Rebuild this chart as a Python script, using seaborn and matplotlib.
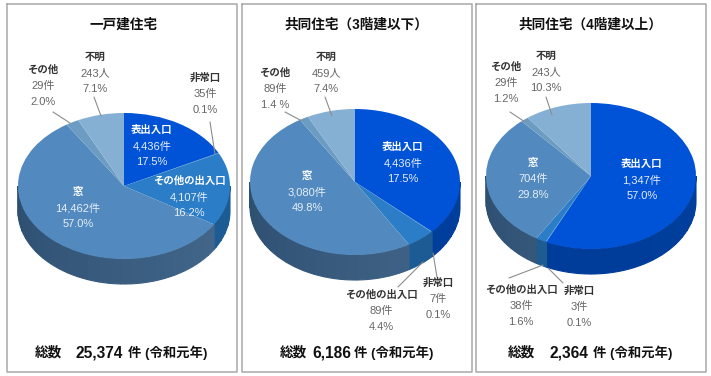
import numpy as np
import seaborn as sns
import matplotlib
matplotlib.use('Agg')
import matplotlib.pyplot as plt

# Data
titles = ['一戸建住宅', '共同住宅（3階建以下）', '共同住宅（4階建以上）']
total_numbers = ['25,374', '6,186', '2,364']
kinds = ['表出入口', '非常口', 'その他の出入口', '窓', 'その他', '不明']

# wedge sizes as drawn (the middle pie is drawn at about 36.9% although its label says 17.5%)
shares_1 = [17.5, 0.1, 16.2, 57.0, 2.0, 7.1]
shares_2 = [36.9, 0.1, 4.4, 49.8, 1.4, 7.4]
shares_3 = [57.0, 0.1, 1.6, 29.8, 1.2, 10.3]

counts_1 = ['4,436件', '35件', '4,107件', '14,462件', '29件', '243人']
counts_2 = ['4,436件', '7件', '89件', '3,080件', '89件', '459人']
counts_3 = ['1,347件', '3件', '38件', '704件', '29件', '243人']

percents_1 = ['17.5%', '0.1%', '16.2%', '57.0%', '2.0%', '7.1%']
percents_2 = ['17.5%', '0.1%', '4.4%', '49.8%', '1.4 %', '7.4%']
percents_3 = ['57.0%', '0.1%', '1.6%', '29.8%', '1.2%', '10.3%']

top_colors = ['#0052d6', '#2a7dc6', '#2a7dc6', '#528abf', '#6d9cc3', '#85b0d3']
side_left = ['#003a96', '#1d5a90', '#1d5a90', '#2d4e6f', '#2d4e6f', '#2d4e6f']
side_right = ['#003f9e', '#1c5c94', '#1c5c94', '#466b90', '#466b90', '#466b90']

# Layout, all in pixels of the 711x376 picture
W, H = 711, 376
RY, DEPTH = 73, 25
panels = [
    dict(box=(7, 4, 237, 372), cx=124, cy=186, rx=106, title_x=124, total_xs=(35, 76, 207),
         shares=shares_1, counts=counts_1, percents=percents_1,
         label_xy=[(152, 130), (205, 78), (189, 181), (78, 192), (43, 70), (95, 57)],
         leaders=[((94, 97), (101, 116)), ((53, 112), (70, 123)), ((210, 122), (215, 154))]),
    dict(box=(242, 4, 472, 372), cx=355, cy=182, rx=105, title_x=356, total_xs=(280, 312, 433),
         shares=shares_2, counts=counts_2, percents=percents_2,
         label_xy=[(403, 147), (438, 283), (381, 295), (307, 176), (275, 73), (326, 57)],
         leaders=[((325, 97), (332, 116)), ((285, 112), (302, 121)),
                  ((433, 253), (437, 277)), ((423, 262), (398, 287))]),
    dict(box=(476, 4, 706, 372), cx=591, cy=176, rx=105, title_x=590, total_xs=(508, 550, 672),
         shares=shares_3, counts=counts_3, percents=percents_3,
         label_xy=[(642, 164), (579, 291), (521, 290), (533, 163), (506, 67), (546, 56)],
         leaders=[((546, 97), (552, 115)), ((510, 112), (525, 122)),
                  ((543, 265), (509, 278)), ((548, 268), (563, 283))]),
]
inside = {'表出入口', '窓'}

sns.set_theme(style='white')
plt.rcParams['font.family'] = ['Liberation Sans', 'Noto Sans CJK JP', 'DejaVu Sans']

fig = plt.figure(figsize=(W / 100, H / 100), dpi=100, facecolor='white')

# Pixel overlay for frames, leaders and text
over = fig.add_axes([0, 0, 1, 1], zorder=3)
over.set_xlim(0, W)
over.set_ylim(H, 0)
over.axis('off')


def draw_side(ax, shares, depth):
    # Rim of the pie: strips on the front half, coloured by position
    edges = np.cumsum([0] + shares) / sum(shares) * 360
    for i in range(len(shares)):
        ramp = sns.blend_palette([side_right[i], side_left[i]], 181)
        start, stop = max(edges[i], 90), min(edges[i + 1], 270)
        if stop <= start:
            continue
        steps = np.append(np.arange(start, stop, 6.0), stop)
        for a, b in zip(steps[:-1], steps[1:]):
            t = np.radians(np.linspace(a, b, 8))
            x, y = np.sin(t), np.cos(t)
            ax.fill(np.r_[x, x[::-1]], np.r_[y, y[::-1] - depth],
                    color=ramp[int((a + b) / 2) - 90], lw=0.8, zorder=1)


for n, p in enumerate(panels):
    x0, y0, x1, y1 = p['box']
    over.plot([x0, x1, x1, x0, x0], [y0, y0, y1, y1, y0], color='#a8a8a8', lw=1.1)

    # Pie axes: one data unit is rx across and RY down
    pad = 1.02
    d = DEPTH / RY
    left = p['cx'] - p['rx'] * pad
    top = p['cy'] - RY * pad
    width = 2 * p['rx'] * pad
    height = RY * (2 * pad + d)
    ax = fig.add_axes([left / W, 1 - (top + height) / H, width / W, height / H], zorder=1)
    draw_side(ax, p['shares'], d)
    ax.pie(p['shares'], colors=top_colors, startangle=90, counterclock=False,
           wedgeprops=dict(linewidth=0, zorder=2))
    ax.set_aspect('auto')
    ax.set_xlim(-pad, pad)
    ax.set_ylim(-pad - d, pad)
    ax.axis('off')

    for (a, b) in p['leaders']:
        over.plot([a[0], b[0]], [a[1], b[1]], color='#8c8c8c', lw=0.8)

    over.text(p['title_x'], 25, titles[n], ha='center', va='center',
              fontsize=9.8, fontweight='bold', color='#111111')

    xa, xb, xc = p['total_xs']
    over.text(xa, 353, '総数', ha='left', va='center', fontsize=9.8,
              fontweight='bold', color='#111111')
    over.text(xb, 353, total_numbers[n], ha='left', va='center', fontsize=11.2,
              fontweight='bold', color='#111111')
    over.text(xc, 353, '件 (令和元年)', ha='right', va='center', fontsize=9.6,
              fontweight='bold', color='#111111')

    for k, name in enumerate(kinds):
        lx, ly = p['label_xy'][k]
        in_pie = name in inside or (name == 'その他の出入口' and n == 0)
        head = 'white' if in_pie else '#333333'
        body = '#e6eef8' if in_pie else '#666666'
        over.text(lx, ly, name, ha='center', va='center', fontsize=7.5,
                  fontweight='bold', color=head)
        over.text(lx, ly + 16, p['counts'][k], ha='center', va='center', fontsize=8, color=body)
        over.text(lx, ly + 32, p['percents'][k], ha='center', va='center', fontsize=8, color=body)

fig.savefig('out.png', dpi=100)
